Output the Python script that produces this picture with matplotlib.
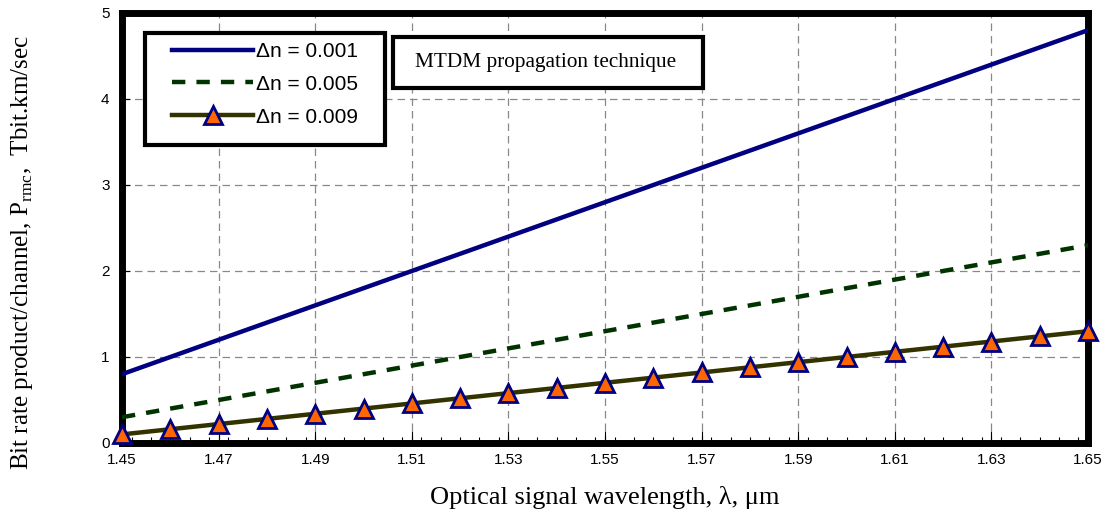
import matplotlib
matplotlib.use("Agg")
import matplotlib.pyplot as plt
from matplotlib.ticker import MultipleLocator, FixedLocator
from matplotlib.patches import Rectangle

wavelength = [1.45, 1.46, 1.47, 1.48, 1.49, 1.50, 1.51, 1.52, 1.53, 1.54, 1.55,
              1.56, 1.57, 1.58, 1.59, 1.60, 1.61, 1.62, 1.63, 1.64, 1.65]
dn_001 = [0.80, 1.00, 1.20, 1.40, 1.60, 1.80, 2.00, 2.20, 2.40, 2.60, 2.80,
          3.00, 3.20, 3.40, 3.60, 3.80, 4.00, 4.20, 4.40, 4.60, 4.80]
dn_005 = [0.30, 0.40, 0.50, 0.60, 0.70, 0.80, 0.90, 1.00, 1.10, 1.20, 1.30,
          1.40, 1.50, 1.60, 1.70, 1.80, 1.90, 2.00, 2.10, 2.20, 2.30]
dn_009 = [0.10, 0.16, 0.22, 0.28, 0.34, 0.40, 0.46, 0.52, 0.58, 0.64, 0.70,
          0.76, 0.82, 0.88, 0.94, 1.00, 1.06, 1.12, 1.18, 1.24, 1.30]
labels = ["Δn = 0.001", "Δn = 0.005", "Δn = 0.009"]
xticks = [1.45, 1.47, 1.49, 1.51, 1.53, 1.55, 1.57, 1.59, 1.61, 1.63, 1.65]
yticks = [0, 1, 2, 3, 4, 5]

fig = plt.figure(figsize=(11.04, 5.2), dpi=100)
ax = fig.add_axes([122/1104, 1 - 443/520, (1088-122)/1104, (443-13)/520])

ax.plot(wavelength, dn_001, color="#000080", lw=3.2, label=labels[0], zorder=3)
ax.plot(wavelength, dn_005, color="#003300", lw=3.2, ls=(0, (3, 2.5)), label=labels[1], zorder=3)
ax.plot(wavelength, dn_009, color="#333300", lw=3.2, marker="^", markersize=12.5,
        markerfacecolor="#FF6600", markeredgecolor="#000080", markeredgewidth=2,
        label=labels[2], zorder=4, clip_on=False)

ax.set_xlim(1.45, 1.65)
ax.set_ylim(0, 5)
ax.xaxis.set_major_locator(FixedLocator(xticks))
ax.xaxis.set_minor_locator(MultipleLocator(0.004))
ax.yaxis.set_major_locator(FixedLocator(yticks))
ax.set_xticklabels(["%.2f" % v for v in xticks])
ax.set_yticklabels([str(v) for v in yticks])
ax.grid(True, which="major", color="#888888", ls=(0, (6, 4)), lw=0.9)
for s in ax.spines.values():
    s.set_linewidth(5)
    s.set_color("black")
ax.tick_params(axis="x", which="major", direction="in", length=9, width=0.8,
               labelsize=11, pad=7, colors="black")
ax.tick_params(axis="x", which="minor", direction="in", length=4, width=0.8)
ax.tick_params(axis="y", which="major", direction="in", length=6, width=0.8,
               labelsize=11, pad=9)
for t in ax.get_xticklabels() + ax.get_yticklabels():
    t.set_fontfamily("Liberation Sans")

ax.set_xlabel("Optical signal wavelength, λ, μm", fontfamily="Liberation Serif",
              fontsize=19, labelpad=14)
ax.set_ylabel(r"Bit rate product/channel, P$_{\mathregular{rmc}}$,  Tbit.km/sec",
              fontfamily="Liberation Serif", fontsize=18)
ax.yaxis.set_label_coords(-0.09, 0.444)

# legend frame drawn as a rectangle in axes coordinates
ax.add_patch(Rectangle((0.0238, 0.693), 0.272 - 0.0238, 0.953 - 0.693,
                       transform=ax.transAxes, fc="white", ec="black", lw=3, zorder=5))
leg = ax.legend(loc="upper left", bbox_to_anchor=(0.0518, 0.933), frameon=False,
                prop={"family": "Liberation Sans", "size": 15},
                handlelength=3.9, handletextpad=0.15, borderpad=0.0, labelspacing=0.67,
                borderaxespad=0)
leg.set_zorder(6)

ax.add_patch(Rectangle((0.2805, 0.8256), 0.6014 - 0.2805, 0.944 - 0.8256,
                       transform=ax.transAxes, fc="white", ec="black", lw=3, zorder=5))
ax.text(0.438, 0.886, "MTDM propagation technique", transform=ax.transAxes,
        fontfamily="Liberation Serif", fontsize=15.3, ha="center", va="center", zorder=6)

fig.savefig("out.png", dpi=100)
